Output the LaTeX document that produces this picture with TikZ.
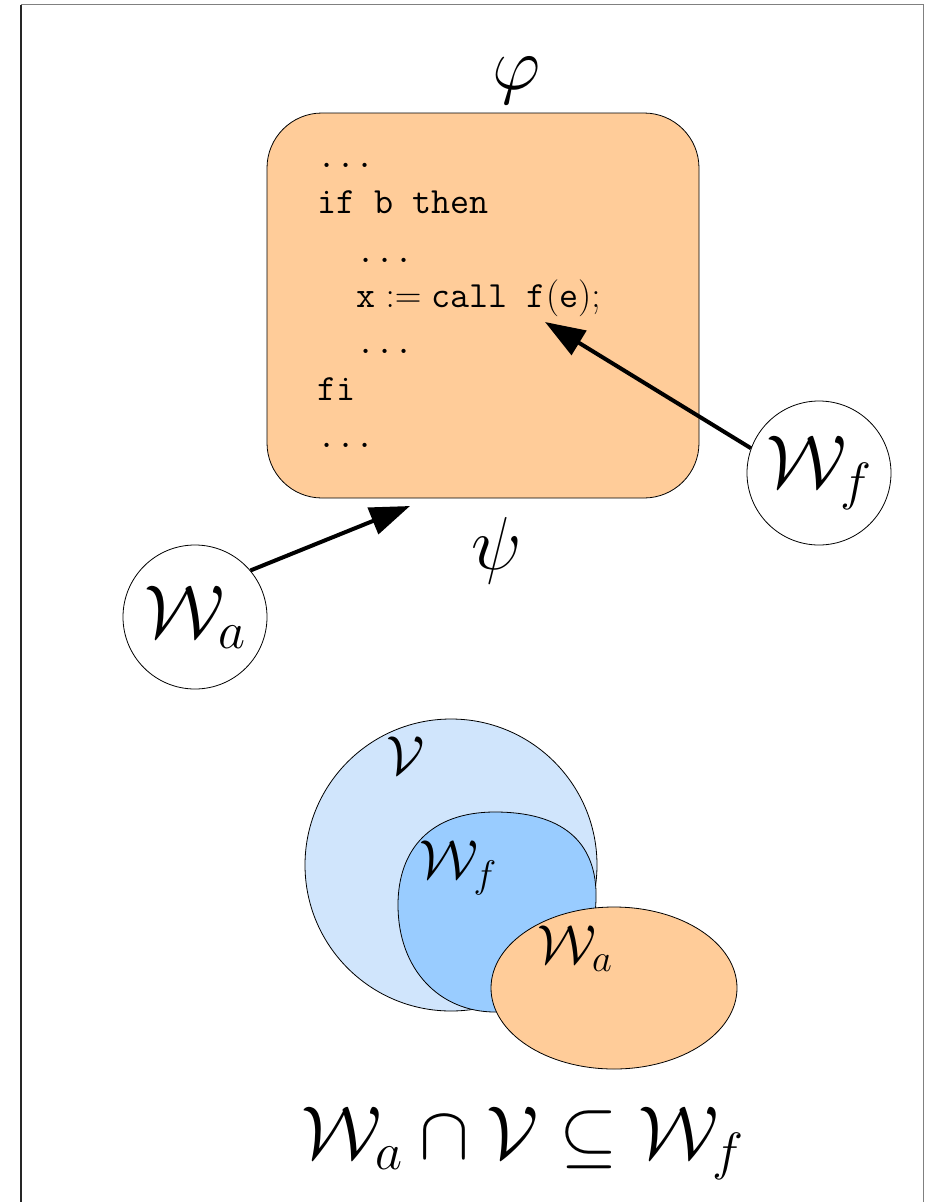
\RequirePackage{fix-cm}
\documentclass[tikz,border=0pt]{standalone}
\usetikzlibrary{arrows.meta,shapes.geometric}
\definecolor{peach}{RGB}{255,204,153}
\definecolor{paleblue}{RGB}{208,229,252}
\definecolor{skyblue}{RGB}{153,204,255}
\definecolor{framegray}{RGB}{128,128,128}
\begin{document}
\begin{tikzpicture}[x=1pt,y=-1pt,
  codeline/.style={anchor=base west, inner sep=0pt, font=\fontsize{37}{44}\selectfont\ttfamily},
  biglabel/.style={inner sep=0pt, font=\fontsize{75}{84}\selectfont},
  venlabel/.style={inner sep=0pt, font=\fontsize{55}{62}\selectfont},
  setcircle/.style={circle, draw, line width=0.8pt, minimum size=144pt, inner sep=0pt, fill=white, font=\fontsize{75}{84}\selectfont},
  arr/.style={line width=4pt, -{Triangle[length=40pt,width=28pt]}},
  outline/.style={draw=black, line width=0.8pt}
]
\useasboundingbox (0,0) rectangle (927,1202);
% frame
\draw[line width=1.3pt, black!85] (21,1202) -- (21,4.5);
\draw[line width=1.3pt, framegray] (21,4.5) -- (923.5,4.5) -- (923.5,1202);

% code box
\node[outline, fill=peach, rounded corners=55pt, minimum width=432pt, minimum height=385pt] (code) at (483,305.5) {};
\node[codeline] (l1) at (317,167) {...};
\node[codeline] (l2) at (317,213) {if b then};
\node[codeline] (l3) at (356,262) {...};
\node[codeline] (l4) at (356,307) {$\texttt{x} := \texttt{call f}(\texttt{e});$};
\node[codeline] (l5) at (356,353) {...};
\node[codeline] (l6) at (317,400) {fi};
\node[codeline] (l7) at (317,447) {...};

\node[biglabel, anchor=base] (phi) at (517,89) {$\varphi$};
\node[biglabel, anchor=base] (psi) at (497,569) {$\psi$};

% weakest preconditions
\node[setcircle] (Wa) at (195,617) {$\mathcal{W}_a$};
\node[setcircle] (Wf) at (819,473) {$\mathcal{W}_f$};
\coordinate (tipA) at (410,506);
\coordinate (tipF) at (545,322);
\draw[arr] (Wa.40) -- (tipA);
\draw[arr] (Wf.160) -- (tipF);

% Venn diagram
\draw[outline, fill=paleblue] (451,865) circle[radius=146pt];
\draw[outline, fill=skyblue] (596,900) .. controls (598,840) and (560,812) .. (495,812)
  .. controls (430,812) and (398,850) .. (398,905)
  .. controls (398,970) and (440,1012) .. (495,1012)
  .. controls (560,1012) and (594,960) .. (596,900) -- cycle;
\draw[outline, fill=peach] (614,988) ellipse[x radius=123pt, y radius=81pt];
\node[venlabel] (lV) at (406,756) {$\mathcal{V}$};
\node[venlabel] (lWf) at (458,868) {$\mathcal{W}_f$};
\node[venlabel] (lWa) at (575,949) {$\mathcal{W}_a$};

\node[biglabel, anchor=base] (formula) at (523,1158) {$\mathcal{W}_a \cap \mathcal{V} \subseteq \mathcal{W}_f$};
\end{tikzpicture}
\end{document}
